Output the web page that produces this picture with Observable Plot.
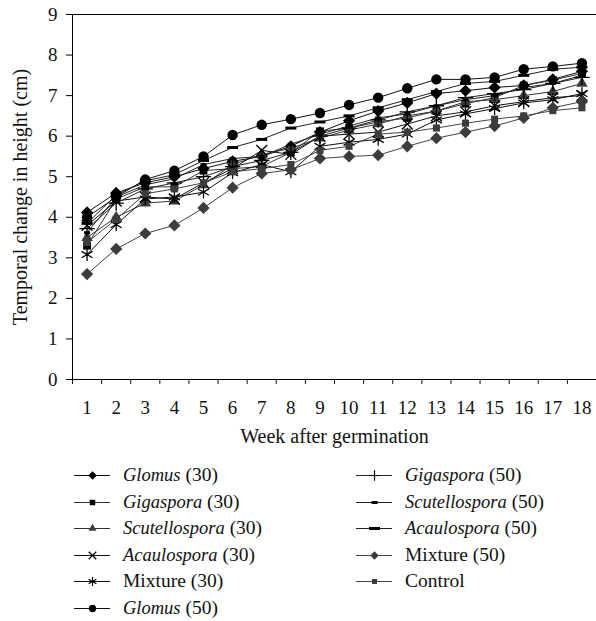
<!DOCTYPE html>
<html><head><meta charset="utf-8">
<script src="https://cdn.jsdelivr.net/npm/d3@7"></script>
<script src="https://cdn.jsdelivr.net/npm/@observablehq/plot@0.6"></script>
<style>
body{margin:0;background:#fff;font-family:"Liberation Serif",serif;color:#111;}
#chart{width:596px;height:450px;}
.legend{display:grid;grid-template-columns:282px 240px;margin-left:74px;padding-top:12px;font-size:19.5px;}
.legend i{font-size:18.5px;}
.item{height:26.5px;display:flex;align-items:center;white-space:nowrap;}
.item svg{margin-right:13px;flex:none;}
</style></head><body><div id="chart"></div><div class="legend" id="legend"></div><script>
const weeks = [1,2,3,4,5,6,7,8,9,10,11,12,13,14,15,16,17,18];
const yTicks = [0,1,2,3,4,5,6,7,8,9];
const glomus30 = [4.12,4.6,4.85,5.0,5.2,5.38,5.5,5.75,6.1,6.38,6.62,6.82,7.05,7.12,7.2,7.25,7.4,7.6];
const gigaspora30 = [3.3,4.45,4.75,4.75,5.15,5.2,5.25,5.6,6.12,6.2,6.35,6.45,6.62,6.8,6.95,7.25,7.38,7.55];
const scutellospora30 = [3.5,4.0,4.35,4.4,4.8,5.3,5.55,5.7,5.95,6.15,6.3,6.5,6.62,6.85,6.9,7.0,7.1,7.3];
const acaulospora30 = [3.8,4.4,4.5,4.45,4.85,5.2,5.65,5.55,6.0,6.05,6.1,6.3,6.5,6.6,6.75,6.85,6.95,7.0];
const mixture30 = [3.08,3.82,4.45,4.5,4.62,5.1,5.3,5.12,5.75,5.85,5.92,6.05,6.4,6.55,6.68,6.82,6.9,7.05];
const glomus50 = [4.0,4.5,4.93,5.15,5.5,6.03,6.28,6.42,6.57,6.77,6.95,7.18,7.4,7.4,7.45,7.65,7.72,7.8];
const gigaspora50 = [3.72,4.35,4.7,4.85,5.0,5.25,5.4,5.6,6.0,6.2,6.4,6.6,6.75,6.95,7.05,7.15,7.3,7.45];
const scutellospora50 = [3.62,4.5,4.8,4.95,5.3,5.45,5.5,5.8,6.05,6.25,6.45,6.55,6.75,6.9,7.0,7.2,7.3,7.5];
const acaulospora50 = [3.85,4.55,4.9,5.05,5.4,5.72,5.92,6.2,6.35,6.5,6.7,6.9,7.1,7.3,7.35,7.5,7.65,7.7];
const mixture50 = [2.6,3.22,3.6,3.8,4.23,4.73,5.08,5.17,5.45,5.5,5.53,5.75,5.95,6.1,6.25,6.45,6.7,6.85];
const control = [3.38,3.95,4.58,4.7,4.85,5.12,5.2,5.3,5.65,5.75,6.05,6.1,6.2,6.32,6.42,6.5,6.63,6.7];
const seriesNames = ["Glomus","Gigaspora","Scutellospora","Acaulospora","Mixture","Glomus","Gigaspora","Scutellospora","Acaulospora","Mixture","Control"];
const seriesDoses = ["(30)","(30)","(30)","(30)","(30)","(50)","(50)","(50)","(50)","(50)",""];
const seriesItalic = [true,true,true,true,false,true,true,true,true,false,false];

const smallDash = {draw(ctx){ ctx.rect(-3,-1.5,6,3); }};
const longDash = {draw(ctx){ ctx.rect(-5.5,-1.5,11,3); }};

const seriesValues = [glomus30,gigaspora30,scutellospora30,acaulospora30,mixture30,glomus50,gigaspora50,scutellospora50,acaulospora50,mixture50,control];
const styles = [
  {symbol:"diamond2", color:"#000", line:"#111", r:5.5},
  {symbol:"square2", color:"#000", line:"#333", r:5},
  {symbol:"triangle2", color:"#3c3c3c", line:"#333", r:5.5},
  {symbol:"times", color:"#000", line:"#111", r:5, stroke:true},
  {symbol:"asterisk", color:"#000", line:"#111", r:6, stroke:true},
  {symbol:"circle", color:"#000", line:"#111", r:5.2},
  {symbol:"plus", color:"#000", line:"#222", r:5, stroke:true},
  {symbol:smallDash, color:"#000", line:"#222", r:5},
  {symbol:longDash, color:"#000", line:"#222", r:5},
  {symbol:"diamond2", color:"#3c3c3c", line:"#444", r:5.5},
  {symbol:"square2", color:"#3c3c3c", line:"#444", r:4.5}
];

const marks = [
  Plot.ruleY([0,9], {stroke:"#000", strokeWidth:1}),
  Plot.ruleX([0.5], {stroke:"#000", strokeWidth:1}),
  Plot.axisY(yTicks, {tickSize:6, tickPadding:9, label:null, stroke:"#000", fontSize:19}),
  Plot.axisX(weeks, {tickSize:0, tickPadding:21, label:null, fontSize:19}),
  Plot.axisX(weeks.map(w => w - 0.5).concat([18.5]), {tickSize:5, tickFormat:() => "", label:null}),
  Plot.text(["Temporal change in height (cm)"], {frameAnchor:"left", textAnchor:"middle", rotate:-90, dx:-52, fontSize:20}),
  Plot.text(["Week after germination"], {frameAnchor:"bottom", dy:63, fontSize:20})
];
seriesValues.forEach((vals, i) => {
  const s = styles[i];
  const data = weeks.map((w, k) => ({week:w, value:vals[k]}));
  marks.push(Plot.line(data, {x:"week", y:"value", stroke:s.line, strokeWidth:1}));
});
seriesValues.forEach((vals, i) => {
  const s = styles[i];
  const data = weeks.map((w, k) => ({week:w, value:vals[k]}));
  marks.push(Plot.dot(data, s.stroke
    ? {x:"week", y:"value", symbol:s.symbol, r:s.r, stroke:s.color, strokeWidth:1.3}
    : {x:"week", y:"value", symbol:s.symbol, r:s.r, fill:s.color, stroke:"none"}));
});

const chart = Plot.plot({
  width:596, height:450,
  marginLeft:72, marginTop:14, marginRight:0, marginBottom:71,
  style:{fontFamily:"'Liberation Serif', serif", fontSize:"19px", color:"#111", background:"#fff"},
  x:{type:"linear", domain:[0.5,18.5], axis:null},
  y:{domain:[0,9], axis:null},
  marks
});
document.getElementById("chart").appendChild(chart);

// legend
const order = [0,6,1,7,2,8,3,9,4,10,5,-1];
const legend = document.getElementById("legend");
order.forEach(i => {
  const item = document.createElement("div");
  item.className = "item";
  if (i >= 0) {
    const s = styles[i];
    const sw = Plot.plot({
      width:36, height:16, margin:0,
      x:{domain:[0,36], axis:null}, y:{domain:[0,16], axis:null},
      marks:[
        Plot.ruleY([8], {x1:0, x2:36, stroke:s.line, strokeWidth:1}),
        Plot.dot([{x:18,y:8}], s.stroke
          ? {x:"x", y:"y", symbol:s.symbol, r:s.r*0.7, stroke:s.color, strokeWidth:1.2}
          : {x:"x", y:"y", symbol:s.symbol, r:s.r*0.7, fill:s.color, stroke:"none"})
      ]
    });
    item.appendChild(sw);
    const span = document.createElement("span");
    if (seriesItalic[i]) {
      const em = document.createElement("i");
      em.textContent = seriesNames[i];
      span.appendChild(em);
      span.appendChild(document.createTextNode(" " + seriesDoses[i]));
    } else {
      span.textContent = seriesNames[i] + (seriesDoses[i] ? " " + seriesDoses[i] : "");
    }
    item.appendChild(span);
  }
  legend.appendChild(item);
});
</script></body></html>
